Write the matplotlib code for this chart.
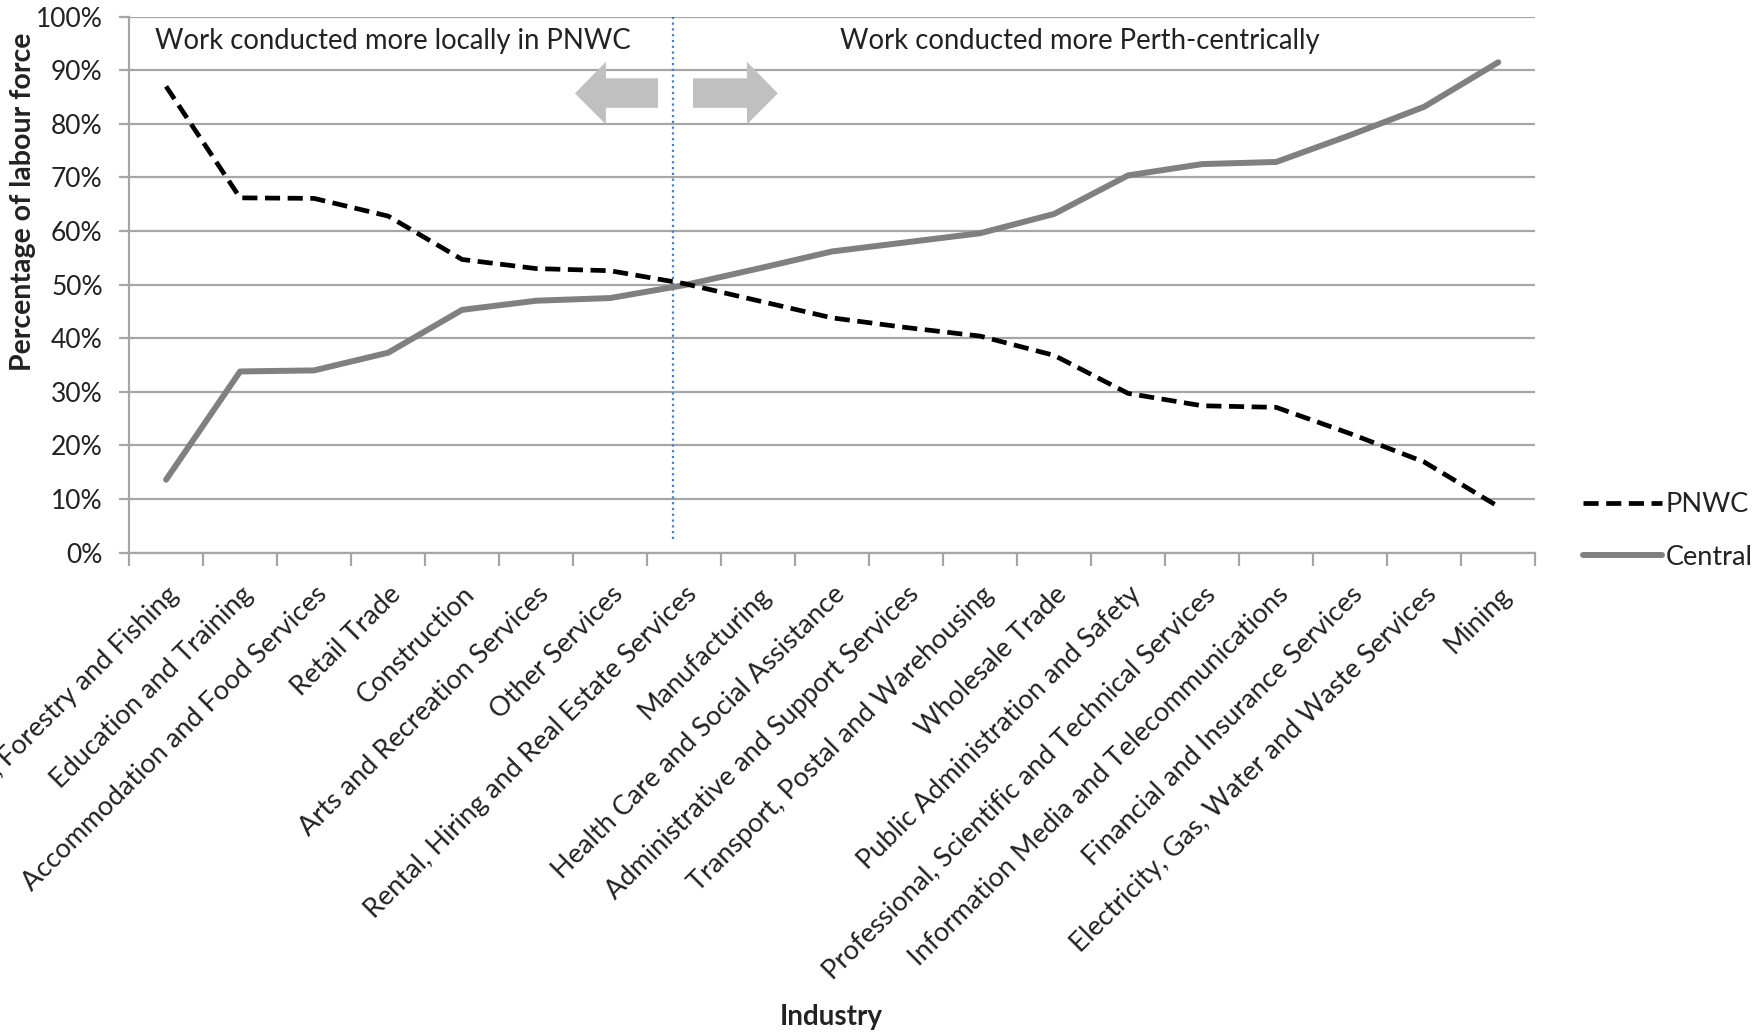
import matplotlib
matplotlib.use("Agg")
import matplotlib.pyplot as plt
from matplotlib.patches import Polygon
from matplotlib.ticker import FixedLocator, PercentFormatter

plt.rcParams['font.family'] = ['Lato', 'DejaVu Sans']

industries = [
    "Agriculture, Forestry and Fishing",
    "Education and Training",
    "Accommodation and Food Services",
    "Retail Trade",
    "Construction",
    "Arts and Recreation Services",
    "Other Services",
    "Rental, Hiring and Real Estate Services",
    "Manufacturing",
    "Health Care and Social Assistance",
    "Administrative and Support Services",
    "Transport, Postal and Warehousing",
    "Wholesale Trade",
    "Public Administration and Safety",
    "Professional, Scientific and Technical Services",
    "Information Media and Telecommunications",
    "Financial and Insurance Services",
    "Electricity, Gas, Water and Waste Services",
    "Mining",
]

pnwc = [87.0, 66.2, 66.1, 62.8, 54.7, 53.0, 52.6, 50.2, 47.0, 43.8,
        42.0, 40.4, 36.8, 29.7, 27.4, 27.1, 22.2, 16.9, 8.6]
central = [13.6, 33.8, 34.0, 37.3, 45.3, 47.0, 47.5, 49.9, 53.0, 56.2,
           57.9, 59.6, 63.2, 70.4, 72.5, 72.9, 77.9, 83.2, 91.5]

y_ticks = list(range(0, 101, 10))

text_col = "#222222"
grid_col = "#a6a6a6"

fig = plt.figure(figsize=(17.61, 10.34), dpi=100)
ax = fig.add_axes([0.0733, 0.4656, 0.7985, 0.5182])

x = list(range(len(industries)))
ax.plot(x, pnwc, color="black", lw=3.4, linestyle=(0, (3.2, 1.6)),
        dash_capstyle="butt", label="PNWC", zorder=4)
ax.plot(x, central, color="#808080", lw=4.3, label="Central", zorder=3,
        solid_capstyle="round")

ax.set_xlim(-0.5, len(industries) - 0.5)
ax.set_ylim(0, 100)

# gridlines and axes styling
ax.yaxis.set_major_locator(FixedLocator(y_ticks))
ax.yaxis.set_major_formatter(PercentFormatter(decimals=0))
ax.grid(axis="y", color=grid_col, lw=1.6, zorder=0)
for side in ("top", "right"):
    ax.spines[side].set_visible(False)
for side in ("left", "bottom"):
    ax.spines[side].set_color(grid_col)
    ax.spines[side].set_linewidth(1.6)
ax.tick_params(axis="y", length=7, width=1.6, color=grid_col,
               labelsize=19, labelcolor=text_col, pad=12)

ax.set_xticks(x)
ax.set_xticklabels(industries, rotation=45, ha="right", va="top",
                   rotation_mode="anchor", fontsize=19.5, color=text_col)
ax.tick_params(axis="x", which="major", length=0, pad=21)
ax.set_xticks([i - 0.5 for i in range(len(industries) + 1)], minor=True)
ax.tick_params(axis="x", which="minor", length=9, width=1.6, color=grid_col)

ax.set_ylabel("Percentage of labour force", fontsize=20.5, fontweight="bold",
              color=text_col)
ax.yaxis.set_label_coords(-0.066, 0.655)
fig.text(0.472, 0.016, "Industry", fontsize=20, fontweight="bold",
         ha="center", va="center", color=text_col)

# divider between local and Perth-centric work
ax.plot([6.846, 6.846], [2.5, 100], color="#4a7ebb", lw=1.6,
        linestyle=(0, (1, 1.6)), zorder=2)

ax.text(-0.15, 95.4, "Work conducted more locally in PNWC", fontsize=19.8,
        ha="left", va="center", color=text_col)
ax.text(9.1, 95.4, "Work conducted more Perth-centrically", fontsize=19.8,
        ha="left", va="center", color=text_col)

arrow_grey = "#c0c0c0"
left_arrow = [(5.525, 85.7), (5.943, 91.6), (5.943, 88.5), (6.648, 88.5),
              (6.648, 83.0), (5.943, 83.0), (5.943, 79.9)]
right_arrow = [(8.266, 85.7), (7.848, 91.6), (7.848, 88.5), (7.119, 88.5),
               (7.119, 83.0), (7.848, 83.0), (7.848, 79.9)]
ax.add_patch(Polygon(left_arrow, closed=True, color=arrow_grey, lw=0, zorder=2))
ax.add_patch(Polygon(right_arrow, closed=True, color=arrow_grey, lw=0, zorder=2))

fig.legend(loc="upper left", bbox_to_anchor=(0.899, 0.524), frameon=False,
           fontsize=19.5, handlelength=2.9, handletextpad=0.15,
           labelspacing=1.02, borderpad=0, borderaxespad=0,
           labelcolor=text_col)

fig.savefig("out.png", dpi=100)
